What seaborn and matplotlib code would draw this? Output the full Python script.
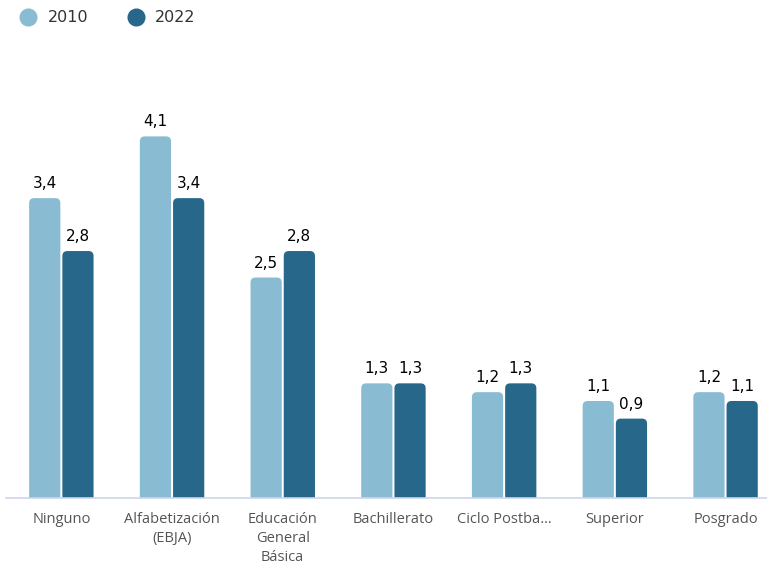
import matplotlib
matplotlib.use("Agg")
import matplotlib.pyplot as plt
import pandas as pd
import seaborn as sns
from matplotlib.patches import FancyBboxPatch
from matplotlib.lines import Line2D

categories = ["Ninguno", "Alfabetización\n(EBJA)", "Educación\nGeneral\nBásica",
              "Bachillerato", "Ciclo Postba…", "Superior", "Posgrado"]
years = ["2010", "2022"]
values_2010 = [3.4, 4.1, 2.5, 1.3, 1.2, 1.1, 1.2]
values_2022 = [2.8, 3.4, 2.8, 1.3, 1.3, 0.9, 1.1]
colors = ["#89bcd2", "#27678a"]

df = pd.DataFrame({
    "cat": categories * 2,
    "year": [years[0]] * len(categories) + [years[1]] * len(categories),
    "val": values_2010 + values_2022,
})

sns.set_style("white")
plt.rcParams["font.family"] = ["Open Sans", "DejaVu Sans"]

fig = plt.figure(figsize=(7.67, 5.64), dpi=100)
ax = fig.add_axes([6 / 767, 66 / 564, 761 / 767, 441 / 564])

sns.barplot(data=df, x="cat", y="val", hue="year", palette=colors,
            width=0.6, gap=0.06, ax=ax, legend=False, saturation=1)

ax.set_xlim(-0.5, -0.5 + 761 / 110.7)
ax.set_ylim(0, 5.0)

# rounded top corners: swap each rectangle for a rounded box of the same size
aspect = (5.0 / 441) / ((761 / 110.7) / 761)
r = 5 / 110.7
for cont, vals in zip(ax.containers, [values_2010, values_2022]):
    for patch, v in zip(cont.patches, vals):
        x, w = patch.get_x(), patch.get_width()
        h = patch.get_height()
        fc = patch.get_facecolor()
        patch.set_visible(False)
        box = FancyBboxPatch((x, -0.1), w, h + 0.1,
                             boxstyle=f"round,pad=0,rounding_size={r}",
                             mutation_aspect=aspect, fc=fc, ec="none")
        ax.add_patch(box)
        ax.annotate(f"{v:.1f}".replace(".", ","), (x + w / 2, h),
                    xytext=(0, 5), textcoords="offset points",
                    ha="center", va="bottom", fontsize=11, color="#000000",
                    family="DejaVu Sans")

for s in ["top", "right", "left"]:
    ax.spines[s].set_visible(False)
ax.spines["bottom"].set_color("#ccd6eb")
ax.spines["bottom"].set_linewidth(1.2)
ax.set_yticks([])
ax.set_xlabel("")
ax.set_ylabel("")
ax.tick_params(axis="x", length=0, pad=10, labelsize=10.5, labelcolor="#555555")
for lbl in ax.get_xticklabels():
    lbl.set_linespacing(1.35)

handles = [Line2D([], [], marker="o", ls="", markersize=12, color=c) for c in colors]
fig.legend(handles, years, loc="upper left", bbox_to_anchor=(-2 / 767, 1 + 4 / 564),
           ncol=2, frameon=False, handletextpad=0.2, columnspacing=2.0,
           labelcolor="#333333", prop={"family": "DejaVu Sans", "size": 11.5})

fig.savefig("out.png", dpi=100)
